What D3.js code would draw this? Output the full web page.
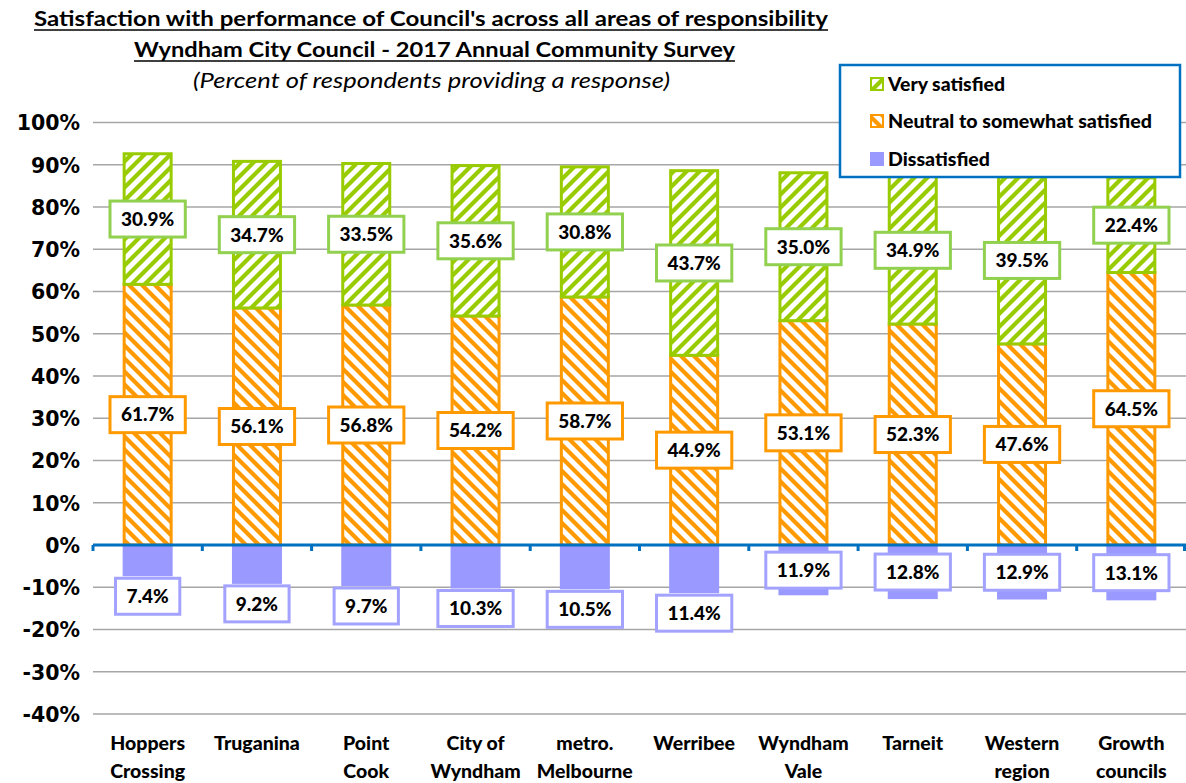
<!DOCTYPE html>
<html>
<head>
<meta charset="utf-8">
<script src="https://cdn.jsdelivr.net/npm/d3@7"></script>
<style>
  body { margin: 0; background: #fff; }
  svg { display: block; }
</style>
</head>
<body>
<svg id="chart" width="1186" height="783"></svg>
<script>
// ---------- data ----------
const categories = [
  ["Hoppers", "Crossing"],
  ["Truganina"],
  ["Point", "Cook"],
  ["City of", "Wyndham"],
  ["metro.", "Melbourne"],
  ["Werribee"],
  ["Wyndham", "Vale"],
  ["Tarneit"],
  ["Western", "region"],
  ["Growth", "councils"]
];
const verySatisfied = [30.9, 34.7, 33.5, 35.6, 30.8, 43.7, 35.0, 34.9, 39.5, 22.4];
const neutral       = [61.7, 56.1, 56.8, 54.2, 58.7, 44.9, 53.1, 52.3, 47.6, 64.5];
const dissatisfied  = [7.4, 9.2, 9.7, 10.3, 10.5, 11.4, 11.9, 12.8, 12.9, 13.1];
const yTicks = [100, 90, 80, 70, 60, 50, 40, 30, 20, 10, 0, -10, -20, -30, -40];
const seriesNames = ["Very satisfied", "Neutral to somewhat satisfied", "Dissatisfied"];
const titleLines = [
  "Satisfaction with performance of Council's across all areas of responsibility",
  "Wyndham City Council - 2017 Annual Community Survey",
  "(Percent of respondents providing a response)"
];

// ---------- setup ----------
const svg = d3.select("#chart");
const FONT = "Lato, 'Open Sans', sans-serif";
const GREEN = "#99cc00", GREEN_BOX = "#92d050", ORANGE = "#ff9900", PURPLE = "#9999ff", PURPLE_BOX = "#a3a3ff";
const BLUE = "#0070c0";

const x = d3.scaleBand().domain(d3.range(categories.length)).range([93, 1186])
  .paddingInner(0.57).paddingOuter(0.285);
const y = d3.scaleLinear().domain([-40, 100]).range([714, 122.5]);

// patterns
const defs = svg.append("defs");
function hatch(id, color, dir) {
  const w = 13;
  const p = defs.append("pattern").attr("id", id).attr("patternUnits", "userSpaceOnUse")
    .attr("width", w).attr("height", w);
  p.append("rect").attr("width", w).attr("height", w).attr("fill", "#fff");
  const d = dir === "up"
    ? `M0,${w} L${w},0 M${-w/2},${w/2} L${w/2},${-w/2} M${w/2},${1.5*w} L${1.5*w},${w/2}`
    : `M0,0 L${w},${w} M${-w/2},${w/2} L${w/2},${1.5*w} M${w/2},${-w/2} L${1.5*w},${w/2}`;
  p.append("path").attr("d", d).attr("stroke", color).attr("stroke-width", 4.2).attr("fill", "none");
}
hatch("hGreen", GREEN, "up");
hatch("hOrange", ORANGE, "down");

// gridlines
svg.append("g").selectAll("line").data(yTicks.filter(t => t !== 0)).join("line")
  .attr("x1", 93).attr("x2", 1186)
  .attr("y1", d => y(d)).attr("y2", d => y(d))
  .attr("stroke", "#a6a6a6").attr("stroke-width", 1.5);

// y axis labels via d3 axis
const yAxis = d3.axisLeft(y).tickValues(yTicks).tickFormat(d => d + "%").tickSize(0).tickPadding(0);
const gy = svg.append("g").attr("transform", "translate(80,0)").call(yAxis);
gy.select(".domain").remove();
gy.selectAll("text").attr("font-family", "'DejaVu Sans', Verdana, sans-serif")
  .attr("font-weight", "bold").attr("font-size", 20.5).attr("fill", "#000").attr("dy", "0.36em");

// bars
const gBars = svg.append("g");
gBars.selectAll("rect.neu").data(neutral).join("rect").attr("class", "neu")
  .attr("x", (d, i) => x(i)).attr("width", x.bandwidth())
  .attr("y", d => y(d)).attr("height", d => y(0) - y(d))
  .attr("fill", "url(#hOrange)").attr("stroke", ORANGE).attr("stroke-width", 3);
gBars.selectAll("rect.vs").data(verySatisfied).join("rect").attr("class", "vs")
  .attr("x", (d, i) => x(i)).attr("width", x.bandwidth())
  .attr("y", (d, i) => y(neutral[i] + d)).attr("height", (d, i) => y(neutral[i]) - y(neutral[i] + d))
  .attr("fill", "url(#hGreen)").attr("stroke", GREEN).attr("stroke-width", 3);
gBars.selectAll("rect.dis").data(dissatisfied).join("rect").attr("class", "dis")
  .attr("x", (d, i) => x(i) - 1.5).attr("width", x.bandwidth() + 3)
  .attr("y", y(0)).attr("height", d => y(-d) - y(0))
  .attr("fill", PURPLE);

// zero line + ticks
svg.append("line").attr("x1", 93).attr("x2", 1186).attr("y1", y(0)).attr("y2", y(0))
  .attr("stroke", BLUE).attr("stroke-width", 3);
const bounds = d3.range(categories.length + 1).map(i => 93 + i * x.step());
svg.append("g").selectAll("line").data(bounds).join("line")
  .attr("x1", d => Math.min(d, 1184.5)).attr("x2", d => Math.min(d, 1184.5))
  .attr("y1", y(0)).attr("y2", y(0) + 6)
  .attr("stroke", BLUE).attr("stroke-width", 3);

// value label boxes
function labelBox(g, cx, cy, text, color) {
  const grp = g.append("g");
  const t = grp.append("text").attr("x", cx).attr("y", cy).attr("dy", "0.36em")
    .attr("text-anchor", "middle").attr("font-family", FONT).attr("font-weight", "900")
    .attr("font-size", 19).attr("fill", "#000").text(text);
  const w = t.node().getComputedTextLength() + 22;
  grp.insert("rect", "text").attr("x", cx - w / 2).attr("y", cy - 18).attr("width", w).attr("height", 36)
    .attr("fill", "#fff").attr("stroke", color).attr("stroke-width", 3);
}
const gLabels = svg.append("g");
verySatisfied.forEach((v, i) => {
  labelBox(gLabels, x(i) + x.bandwidth() / 2, y(neutral[i] + v / 2), v.toFixed(1) + "%", GREEN_BOX);
});
neutral.forEach((v, i) => {
  labelBox(gLabels, x(i) + x.bandwidth() / 2, y(v / 2), v.toFixed(1) + "%", ORANGE);
});
dissatisfied.forEach((v, i) => {
  const cy = v < 11.5 ? y(-v) + 20 : y(-v / 2);
  labelBox(gLabels, x(i) + x.bandwidth() / 2, cy, v.toFixed(1) + "%", PURPLE_BOX);
});

// category labels
const gx = svg.append("g");
categories.forEach((lines, i) => {
  lines.forEach((ln, j) => {
    gx.append("text").attr("x", x(i) + x.bandwidth() / 2).attr("y", 750 + j * 28)
      .attr("text-anchor", "middle").attr("font-family", FONT).attr("font-weight", "900")
      .attr("font-size", 19.5).attr("fill", "#000").text(ln);
  });
});

// title
const titleSpecs = [
  { x1: 34, x2: 828, base: 26, bold: true, italic: false, underline: true },
  { x1: 134, x2: 735, base: 57, bold: true, italic: false, underline: true },
  { x1: 193, x2: 670, base: 88, bold: false, italic: true, underline: false }
];
titleLines.forEach((ln, i) => {
  const s = titleSpecs[i];
  svg.append("text").attr("x", s.x1).attr("y", s.base)
    .attr("font-family", FONT).attr("font-weight", s.bold ? "bold" : "normal")
    .attr("font-style", s.italic ? "italic" : "normal").attr("font-size", 21)
    .attr("textLength", s.x2 - s.x1).attr("lengthAdjust", "spacingAndGlyphs")
    .attr("fill", "#000").text(ln);
  if (s.underline) {
    svg.append("line").attr("x1", s.x1).attr("x2", s.x2).attr("y1", s.base + 4).attr("y2", s.base + 4)
      .attr("stroke", "#000").attr("stroke-width", 1.6);
  }
});

// legend
const lg = svg.append("g");
lg.append("rect").attr("x", 840).attr("y", 65).attr("width", 340).attr("height", 112)
  .attr("fill", "#fff").attr("stroke", BLUE).attr("stroke-width", 2.5);
const swFill = ["url(#hGreen)", "url(#hOrange)", PURPLE];
const swStroke = [GREEN, ORANGE, PURPLE];
const legendY = [84, 121, 159];
const legendW = [117, 264, 102];
seriesNames.forEach((name, i) => {
  lg.append("rect").attr("x", 871).attr("y", legendY[i] - 6).attr("width", 12).attr("height", 12)
    .attr("fill", swFill[i]).attr("stroke", swStroke[i]).attr("stroke-width", 2);
  lg.append("text").attr("x", 888).attr("y", legendY[i]).attr("dy", "0.36em")
    .attr("font-family", FONT).attr("font-weight", "900").attr("font-size", 19)
    .attr("textLength", legendW[i]).attr("lengthAdjust", "spacingAndGlyphs")
    .attr("fill", "#000").text(name);
});
</script>
</body>
</html>
